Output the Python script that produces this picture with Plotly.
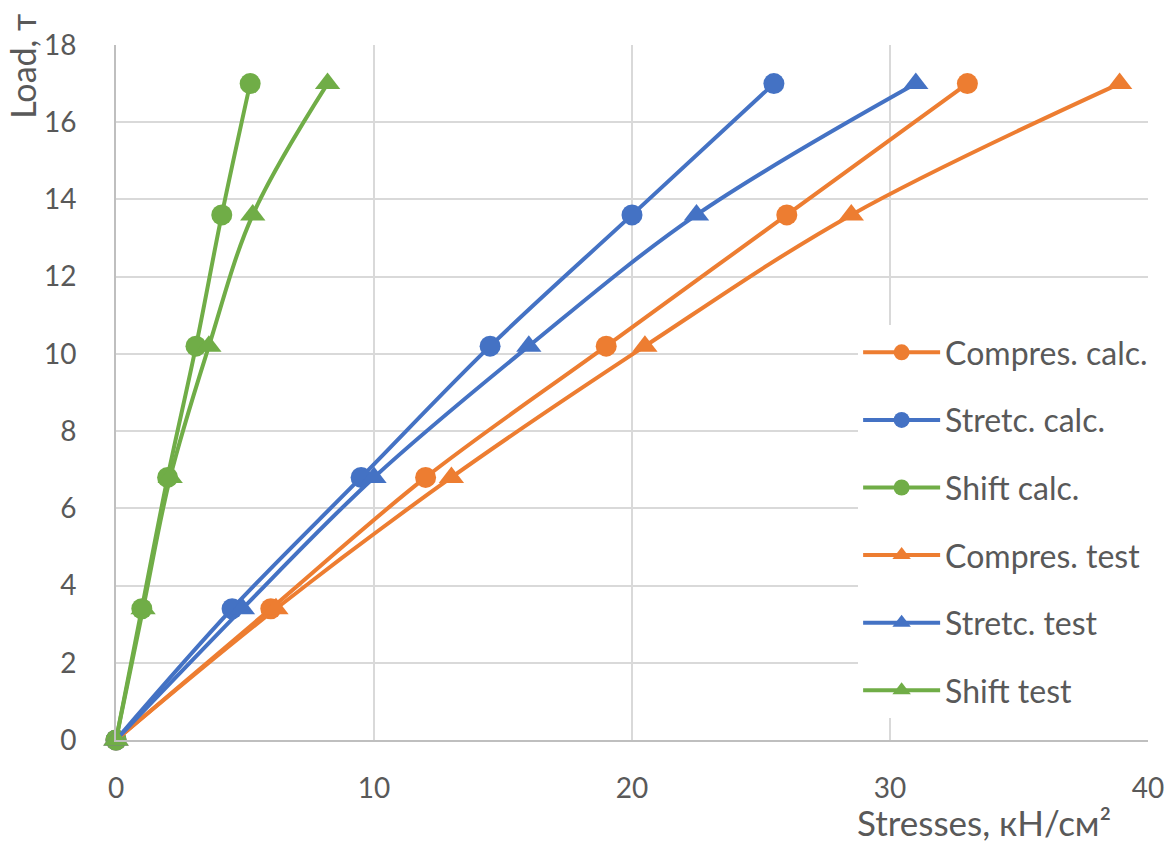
import plotly.graph_objects as go

loads = [0, 3.4, 6.8, 10.2, 13.6, 17]

compres_calc = [0, 6.0, 12.0, 19.0, 26.0, 33.0]
stretc_calc = [0, 4.5, 9.5, 14.5, 20.0, 25.5]
shift_calc = [0, 1.0, 2.0, 3.1, 4.1, 5.2]
compres_test = [0, 6.2, 13.0, 20.5, 28.5, 38.9]
stretc_test = [0, 4.9, 10.0, 16.0, 22.5, 31.0]
shift_test = [0, 1.05, 2.1, 3.6, 5.3, 8.2]

series_names = ["Compres. calc.", "Stretc. calc.", "Shift calc.",
                "Compres. test", "Stretc. test", "Shift test"]
series_values = [compres_calc, stretc_calc, shift_calc,
                 compres_test, stretc_test, shift_test]
colors = ["#ED7D31", "#4472C4", "#70AD47", "#ED7D31", "#4472C4", "#70AD47"]
symbols = ["circle", "circle", "circle",
           "triangle-up", "triangle-up", "triangle-up"]

FONT = "Lato"
TXT = "#595959"

W, H = 1168, 834
ML, MR, MT, MB = 108, 24, 37, 102
PW = W - ML - MR
PH = H - MT - MB

fig = go.Figure()
for i, (name, xs) in enumerate(zip(series_names, series_values)):
    fig.add_trace(go.Scatter(
        x=xs, y=loads, name=name, mode="lines+markers",
        line=dict(color=colors[i], width=4, shape="spline"),
        marker=dict(symbol=symbols[i], size=21 if symbols[i] == "circle" else 22,
                    color=colors[i]),
        cliponaxis=False, legendgroup=f"g{i}",
    ))

fig.update_layout(
    width=W, height=H,
    margin=dict(l=ML, r=MR, t=MT, b=MB),
    paper_bgcolor="white", plot_bgcolor="white",
    font=dict(family=FONT, size=28, color=TXT),
    showlegend=True,
    legend=dict(x=(853 - ML) / PW, y=1 - (317 - MT) / PH,
                xanchor="left", yanchor="top",
                bgcolor="white", borderwidth=0,
                font=dict(size=32, color=TXT, family=FONT),
                tracegroupgap=23, itemwidth=77),
    xaxis=dict(range=[0, 40], dtick=10, tick0=0, showgrid=True,
               gridcolor="#D9D9D9", gridwidth=2, zeroline=False,
               showline=True, linecolor="#BFBFBF", linewidth=2,
               ticks="", ticklabelstandoff=22, ticklabeloverflow="allow",
               tickfont=dict(size=28, color=TXT)),
    yaxis=dict(range=[0, 18], dtick=2, tick0=0, showgrid=True,
               gridcolor="#D9D9D9", gridwidth=2, zeroline=False,
               showline=True, linecolor="#BFBFBF", linewidth=2,
               ticks="", ticklabelstandoff=32,
               tickfont=dict(size=28, color=TXT)),
    annotations=[
        dict(text="Load, т", xref="paper", yref="paper",
             x=(14 - ML) / PW, y=1 + (MT - 4) / PH,
             xanchor="center", yanchor="top", textangle=-90,
             showarrow=False, font=dict(size=34, color=TXT, family=FONT)),
        dict(text="Stresses, кН/см²", xref="paper", yref="paper",
             x=(1109 - ML) / PW, y=-(814 - (H - MB)) / PH,
             xanchor="right", yanchor="middle",
             showarrow=False, font=dict(size=35, color=TXT, family=FONT)),
    ],
)

fig.write_html("out.html")
